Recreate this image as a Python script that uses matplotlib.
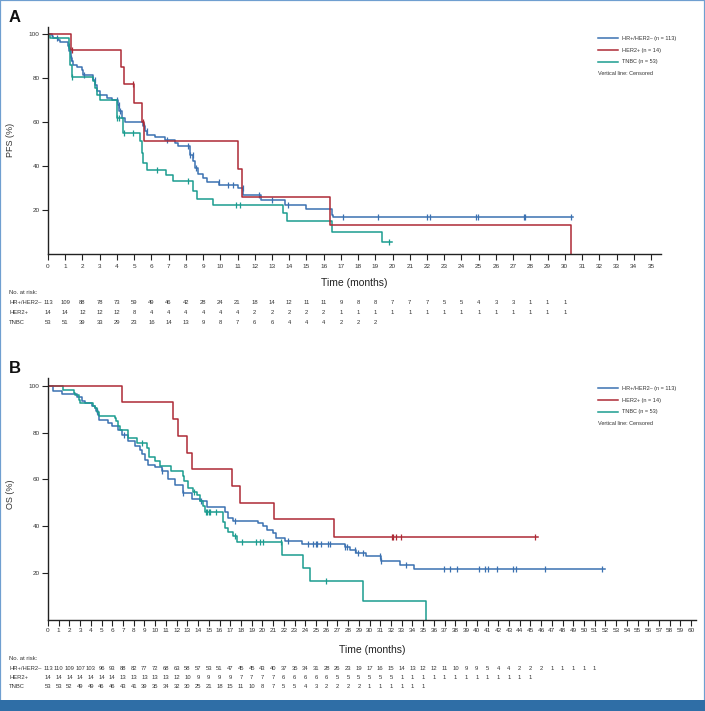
import matplotlib.pyplot as plt
import matplotlib.transforms as mtransforms
import numpy as np
from matplotlib.lines import Line2D
from matplotlib.patches import Rectangle

plt.rcParams["font.family"] = ["Liberation Sans", "DejaVu Sans"]

BLUE = "#3b71b1"
RED = "#ad2a36"
TEAL = "#1b9c90"
TXT = "#333333"

# ---- Panel A: PFS step curves (months, %) ----
pfs_hr_t = [0, 0.21, 0.31, 0.60, 0.70, 1.18, 1.24, 1.32, 1.37, 1.47, 1.66, 1.95, 2.05,
            2.63, 2.73, 2.82, 3.02, 3.40, 3.70, 4.04, 4.14, 4.28, 4.47, 5.53, 5.63, 5.73,
            6.21, 6.79, 7.37, 7.56, 8.24, 8.43, 8.53, 8.72, 9.01, 9.25, 9.92, 11.05,
            11.34, 12.36, 13.75, 15.00, 16.46, 16.55]
pfs_hr_s = [100, 99.1, 98.2, 97.4, 96.6, 94.6, 92.3, 89.3, 87.8, 86.2, 85.0, 83.9, 81.7,
            79.4, 77.1, 74.1, 72.5, 71.0, 70.2, 67.9, 64.9, 61.9, 60.2, 58.1, 56.1, 54.2,
            53.3, 52.0, 50.5, 48.9, 45.1, 42.1, 39.0, 36.5, 34.4, 32.8, 31.3, 29.8,
            26.7, 24.2, 22.0, 20.2, 17.6, 16.5]
pfs_hr_cens = [0.50, 1.20, 1.30, 1.36, 2.10, 2.70, 4.00, 4.10, 4.17, 5.55, 5.72, 6.90,
               8.10, 8.25, 8.42, 8.57, 9.90, 10.43, 10.76, 11.30, 12.25, 12.98, 13.95,
               17.10, 19.17, 22.00, 22.20, 24.84, 24.94, 27.60, 27.66, 30.33]
pfs_hr_end = 30.5

pfs_her2_t = [0, 1.33, 4.24, 4.43, 4.99, 5.45, 5.56, 11.00, 11.28, 16.37, 30.35]
pfs_her2_s = [100, 92.8, 85.0, 77.4, 68.6, 60.0, 51.5, 38.5, 25.7, 12.8, 0]
pfs_her2_cens = [1.38, 4.93, 5.50]
pfs_her2_end = 30.35

pfs_tnbc_t = [0, 0.12, 1.20, 1.30, 1.37, 2.63, 2.73, 2.82, 3.02, 3.99, 4.02, 4.33, 4.37,
              5.34, 5.44, 5.53, 5.73, 6.85, 7.24, 8.40, 8.63, 9.60, 13.66, 13.85, 16.50,
              19.37]
pfs_tnbc_s = [100, 98.2, 93.8, 86.2, 80.8, 78.6, 75.6, 72.5, 70.2, 67.9, 61.9, 58.1, 55.0,
              51.2, 45.9, 41.3, 38.3, 36.0, 33.2, 28.4, 25.0, 22.1, 18.3, 14.7, 10.0, 5.1]
pfs_tnbc_cens = [1.37, 4.02, 4.12, 4.42, 4.95, 6.35, 8.15, 10.92, 11.12, 19.80]
pfs_tnbc_end = 19.95

pfs_risk_hr = [113, 109, 88, 78, 73, 59, 49, 46, 42, 28, 24, 21, 18, 14, 12, 11, 11, 9, 8,
               8, 7, 7, 7, 5, 5, 4, 3, 3, 1, 1, 1]
pfs_risk_her2 = [14, 14, 12, 12, 12, 8, 4, 4, 4, 4, 4, 4, 2, 2, 2, 2, 2, 1, 1, 1, 1, 1, 1,
                 1, 1, 1, 1, 1, 1, 1, 1]
pfs_risk_tnbc = [53, 51, 39, 33, 29, 23, 16, 14, 13, 9, 8, 7, 6, 6, 4, 4, 4, 2, 2, 2]

# ---- Panel B: OS step curves ----
os_hr_t = [0, 0.44, 1.34, 2.67, 3.14, 3.45, 4.07, 4.38, 4.50, 4.62, 4.79, 5.63, 5.94,
           6.56, 6.87, 7.49, 8.12, 8.58, 8.80, 9.05, 9.36, 9.98, 10.60, 11.20, 11.85,
           12.60, 13.40, 14.20, 14.80, 16.50, 16.80, 17.30, 19.60, 20.10, 20.40, 21.00,
           21.30, 22.10, 23.70, 27.70, 28.20, 28.70, 29.70, 31.10, 32.80, 34.10]
os_hr_s = [100, 97.9, 96.6, 95.0, 93.6, 92.6, 91.2, 90.5, 89.0, 87.3, 85.2, 84.0, 82.6,
           81.2, 78.8, 76.2, 74.1, 72.6, 70.8, 68.4, 66.2, 65.1, 63.4, 60.3, 57.7,
           54.1, 51.7, 50.9, 48.4, 46.3, 43.5, 42.3, 41.5, 40.2, 38.5, 37.3,
           34.9, 33.9, 32.3, 31.1, 29.9, 28.5, 27.1, 25.2, 23.5, 21.8]
os_hr_cens = [4.60, 7.10, 10.60, 12.60, 14.30, 17.40, 22.40, 24.30, 24.75, 25.00, 25.10,
              25.50, 26.15, 26.30, 27.70, 27.90, 28.60, 28.90, 29.40, 31.00, 31.10, 33.40,
              36.90, 37.50, 38.20, 40.20, 40.80, 41.00, 41.90, 43.40, 43.70, 46.40, 51.70]
os_hr_end = 52.0

os_her2_t = [0, 6.87, 11.63, 12.16, 12.93, 13.40, 17.20, 17.90, 21.10, 26.70]
os_her2_s = [100, 93.0, 85.9, 78.5, 71.2, 64.4, 57.3, 50.1, 43.0, 35.6]
os_her2_cens = [32.06, 32.20, 32.50, 32.96, 45.46]
os_her2_end = 45.7

os_tnbc_t = [0, 1.37, 2.40, 2.52, 2.92, 2.99, 4.23, 4.38, 4.60, 4.79, 6.25, 6.34, 6.56,
             6.72, 7.43, 8.30, 9.20, 9.40, 10.00, 10.45, 11.45, 12.55, 12.65, 13.10,
             13.55, 13.90, 14.20, 14.45, 14.65, 16.30, 16.50, 16.80, 17.30, 17.60, 21.80,
             23.76, 24.40, 29.40, 35.26]
os_tnbc_s = [100, 98.0, 97.0, 96.2, 94.0, 92.6, 91.5, 90.5, 88.8, 86.9, 86.0, 84.8, 82.6,
             81.2, 77.6, 75.5, 73.4, 69.5, 67.7, 65.9, 63.5, 61.5, 59.4, 56.3,
             54.8, 53.4, 50.6, 48.5, 46.3, 42.0, 39.2, 37.7, 36.0, 33.2, 27.6,
             22.1, 16.7, 8.3, 0]
os_tnbc_cens = [8.74, 13.65, 14.70, 14.85, 15.00, 15.10, 15.70, 17.45, 18.07, 19.40,
                19.80, 20.10, 21.70, 25.90]
os_tnbc_end = 35.26

os_risk_hr = [113, 110, 109, 107, 103, 96, 93, 88, 82, 77, 72, 68, 63, 58, 57, 53, 51, 47,
              45, 45, 43, 40, 37, 35, 34, 31, 28, 26, 23, 19, 17, 16, 15, 14, 13, 12, 12,
              11, 10, 9, 9, 5, 4, 4, 2, 2, 2, 1, 1, 1, 1, 1]
os_risk_her2 = [14, 14, 14, 14, 14, 14, 14, 13, 13, 13, 13, 13, 12, 10, 9, 9, 9, 9, 7, 7,
                7, 7, 6, 6, 6, 6, 6, 5, 5, 5, 5, 5, 5, 1, 1, 1, 1, 1, 1, 1, 1, 1, 1, 1,
                1, 1]
os_risk_tnbc = [53, 53, 52, 49, 49, 46, 46, 43, 41, 39, 35, 34, 32, 30, 25, 21, 18, 15, 11,
                10, 8, 7, 5, 5, 4, 3, 2, 2, 2, 2, 1, 1, 1, 1, 1, 1]

group_labels = ["HR+/HER2\u2013 (n = 113)", "HER2+ (n = 14)", "TNBC (n = 53)"]
risk_labels = ["HR+/HER2\u2013", "HER2+", "TNBC"]
colors = [BLUE, RED, TEAL]

W, H = 705, 711


def fx(px):
    return px / W


def fy(py):
    return 1 - py / H


def surv_at(t, s, x):
    idx = np.searchsorted(t, x, side="right") - 1
    return np.asarray(s)[idx]


def draw_km(ax, t, s, end, cens, color):
    ax.step(list(t) + [end], list(s) + [s[-1]], where="post", color=color, lw=1.1)
    ax.plot(cens, surv_at(t, s, cens), ls="none", marker="|", ms=5, mew=0.9,
            color=color)


def style_axes(ax, xmax, xlim, ylabel, xpad):
    ax.set_xlim(0, xlim)
    ax.set_ylim(0, 103.4)
    ax.spines[["top", "right"]].set_visible(False)
    for sp in ["left", "bottom"]:
        ax.spines[sp].set_linewidth(1.0)
        ax.spines[sp].set_color("#222222")
    ax.set_xticks(np.arange(0, xmax + 1))
    ax.set_yticks([20, 40, 60, 80, 100])
    ax.tick_params(axis="x", length=4, width=0.8, pad=xpad, labelsize=4.6,
                   colors="#222222", labelcolor=TXT)
    ax.tick_params(axis="y", length=4, width=0.8, pad=2, labelsize=4.6,
                   colors="#222222", labelcolor=TXT)
    ax.set_ylabel(ylabel, fontsize=6.5, color=TXT)
    ax.yaxis.set_label_coords(-0.054, 0.5)


def legend(fig, y0):
    for i, (lab, c) in enumerate(zip(group_labels, colors)):
        y = fy(y0 + i * 11.8)
        fig.add_artist(Line2D([fx(598), fx(618)], [y, y], color=c, lw=1.1))
        fig.text(fx(622), y, lab, fontsize=4.0, color=TXT, va="center")
    fig.text(fx(598), fy(y0 + 3 * 11.8), "Vertical line: Censored", fontsize=4.0,
             color=TXT, va="center")


def risk_table(fig, ax, y_title, rows_y, tables):
    tr = mtransforms.blended_transform_factory(ax.transData, fig.transFigure)
    fig.text(fx(9), fy(y_title), "No. at risk:", fontsize=4.2, color=TXT, va="center")
    for lab, ry, vals in zip(risk_labels, rows_y, tables):
        fig.text(fx(9), fy(ry), lab, fontsize=4.2, color=TXT, va="center")
        for m, v in enumerate(vals):
            ax.text(m, fy(ry), str(v), transform=tr, fontsize=4.2, color=TXT,
                    ha="center", va="center")


fig = plt.figure(figsize=(W / 100, H / 100), dpi=100)

# Panel A
axA = fig.add_axes([fx(48), fy(253.5), 613 / W, (253.5 - 27) / H])
draw_km(axA, pfs_hr_t, pfs_hr_s, pfs_hr_end, pfs_hr_cens, BLUE)
draw_km(axA, pfs_tnbc_t, pfs_tnbc_s, pfs_tnbc_end, pfs_tnbc_cens, TEAL)
draw_km(axA, pfs_her2_t, pfs_her2_s, pfs_her2_end, pfs_her2_cens, RED)
style_axes(axA, 35, 35.58, "PFS (%)", 3.2)
fig.text(fx(354.5), fy(283), "Time (months)", fontsize=7.5, color="#222222",
         ha="center", va="center")
legend(fig, 38.3)
risk_table(fig, axA, 293, [303, 312.8, 322.6], [pfs_risk_hr, pfs_risk_her2, pfs_risk_tnbc])
fig.text(fx(14.5), fy(18), "A", fontsize=12, fontweight="bold", color="#111111",
         ha="center", va="center")

# Panel B
axB = fig.add_axes([fx(48), fy(620), 648 / W, (620 - 377.7) / H])
draw_km(axB, os_hr_t, os_hr_s, os_hr_end, os_hr_cens, BLUE)
draw_km(axB, os_tnbc_t, os_tnbc_s, os_tnbc_end, os_tnbc_cens, TEAL)
draw_km(axB, os_her2_t, os_her2_s, os_her2_end, os_her2_cens, RED)
style_axes(axB, 60, 60.45, "OS (%)", 1.8)
axB.yaxis.set_label_coords(-0.051, 0.52)
fig.text(fx(372), fy(650), "Time (months)", fontsize=7.5, color="#222222",
         ha="center", va="center")
legend(fig, 388.3)
risk_table(fig, axB, 659, [668.3, 677.5, 687], [os_risk_hr, os_risk_her2, os_risk_tnbc])
fig.text(fx(14.5), fy(368), "B", fontsize=12, fontweight="bold", color="#111111",
         ha="center", va="center")

# frame and bottom band
fig.add_artist(Rectangle((0, 0), 1, 1, transform=fig.transFigure, fill=False,
                         edgecolor="#6f9fd0", lw=1.6))
fig.add_artist(Rectangle((0, 0), 1, 11 / H, transform=fig.transFigure,
                         facecolor="#2f6ea6", edgecolor="none"))

fig.savefig("out.png", dpi=100)
